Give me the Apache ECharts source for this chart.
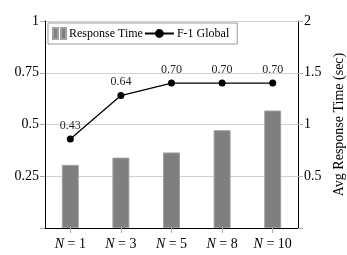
<!DOCTYPE html>
<html><head><meta charset="utf-8">
<script src="https://cdn.jsdelivr.net/npm/echarts@6/dist/echarts.min.js"></script>
<style>html,body{margin:0;padding:0;background:#fff}#c{width:347px;height:255px}</style>
</head><body><div id="c"></div>
<script>
const categories = ['1', '3', '5', '8', '10'];
const responseTime = [0.61, 0.68, 0.73, 0.945, 1.135];
const f1Global = [0.43, 0.64, 0.70, 0.70, 0.70];
const leftTicks = [0.25, 0.5, 0.75, 1];
const rightTicks = [0.5, 1, 1.5, 2];

const FONT = 'Liberation Serif';
const chart = echarts.init(document.getElementById('c'), null, {renderer: 'canvas'});
const axisLine = {show: true, lineStyle: {color: '#000', width: 1}};
chart.setOption({
  animation: false,
  textStyle: {fontFamily: FONT},
  grid: {left: 45, right: 49, top: 21, bottom: 27, outerBoundsMode: 'none', containLabel: false},
  legend: {
    left: 48, top: 23, itemGap: 1, itemWidth: 29, itemHeight: 11,
    padding: [4, 8, 4, 4],
    borderColor: '#999', borderWidth: 1,
    textStyle: {fontFamily: FONT, fontSize: 12, color: '#000'},
    data: [
      {name: 'Response Time', icon: 'path://M0,0h5v11h-5z M8,0h5v11h-5z M29,11',
        textStyle: {padding: [0, 0, 0, -18]}},
      {name: 'F-1 Global', textStyle: {padding: [0, 0, 0, -2]}}
    ]
  },
  xAxis: [
    {
      type: 'category', data: categories, position: 'bottom',
      axisLine: axisLine,
      axisTick: {show: true, alignWithLabel: true, length: 5, lineStyle: {color: '#aaa'}},
      axisLabel: {
        interval: 0, hideOverlap: false,
        fontFamily: FONT, fontSize: 14, color: '#000', margin: 9,
        formatter: v => '{i|N} = ' + v,
        rich: {i: {fontStyle: 'italic', fontFamily: FONT, fontSize: 14, color: '#000'}}
      }
    },
    {
      type: 'category', data: categories, position: 'top',
      axisLine: axisLine,
      axisTick: {show: true, alignWithLabel: true, interval: 0, length: 5, lineStyle: {color: '#aaa'}},
      axisLabel: {show: false}
    }
  ],
  yAxis: [
    {
      type: 'value', min: 0, max: 1, interval: 0.25, position: 'left',
      name: 'F-1 Global', nameLocation: 'middle', nameGap: 37, nameRotate: 90,
      nameTextStyle: {fontFamily: FONT, fontSize: 14, color: '#000'},
      axisLine: axisLine,
      axisTick: {show: true, length: 5, lineStyle: {color: '#aaa'}},
      axisLabel: {fontFamily: FONT, fontSize: 14, color: '#000', margin: 6,
        formatter: v => leftTicks.includes(v) ? String(v) : ''},
      splitLine: {show: true, lineStyle: {color: '#d0d0d0', width: 1}}
    },
    {
      type: 'value', min: 0, max: 2, interval: 0.5, position: 'right',
      name: 'Avg Response Time (sec)', nameLocation: 'middle', nameGap: 27, nameRotate: 90,
      nameTextStyle: {fontFamily: FONT, fontSize: 14, color: '#000'},
      axisLine: axisLine,
      axisTick: {show: true, length: 5, lineStyle: {color: '#aaa'}},
      axisLabel: {fontFamily: FONT, fontSize: 14, color: '#000', margin: 6,
        formatter: v => rightTicks.includes(v) ? String(v) : ''},
      splitLine: {show: false}
    }
  ],
  series: [
    {
      name: 'Response Time', type: 'bar', yAxisIndex: 1, data: responseTime,
      barWidth: 17,
      itemStyle: {color: '#7f7f7f', borderColor: '#a0a0a0', borderWidth: 1}
    },
    {
      name: 'F-1 Global', type: 'line', yAxisIndex: 0, data: f1Global,
      symbol: 'circle', symbolSize: 7,
      lineStyle: {color: '#000', width: 1.3},
      itemStyle: {color: '#000'},
      label: {show: true, position: 'top', distance: 4, fontFamily: FONT, fontSize: 12, color: '#222',
        formatter: p => p.value.toFixed(2)}
    }
  ]
});
</script></body></html>
